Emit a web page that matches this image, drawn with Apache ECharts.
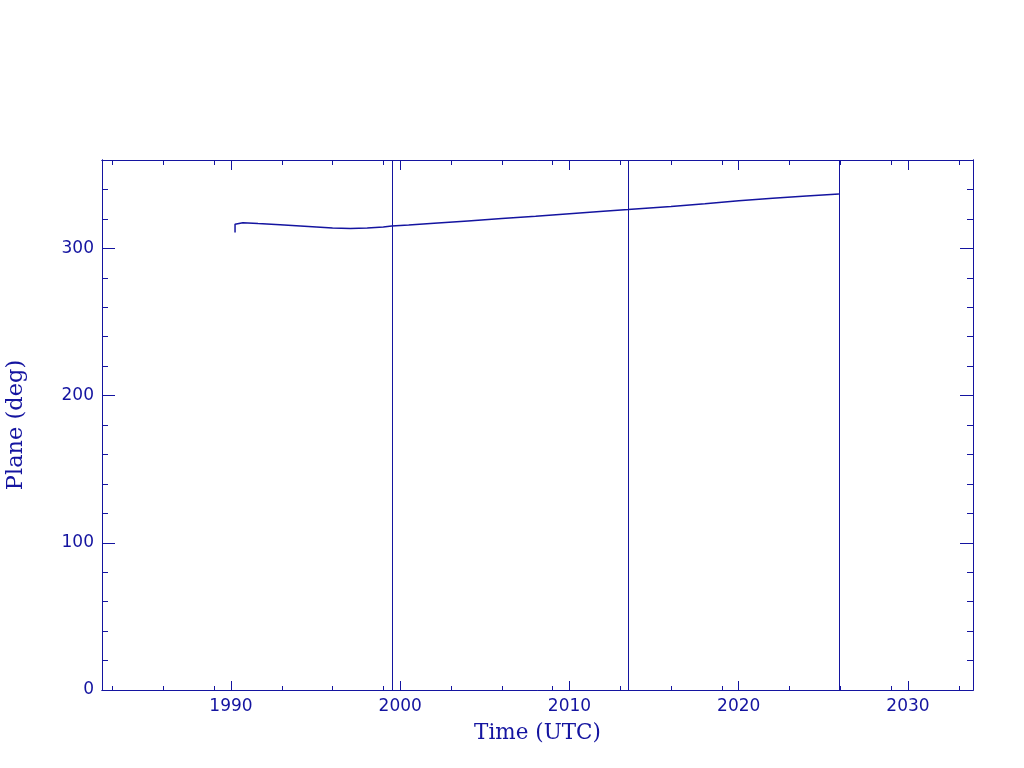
<!DOCTYPE html>
<html>
<head>
<meta charset="utf-8">
<script src="https://cdn.jsdelivr.net/npm/echarts@6/dist/echarts.min.js"></script>
<style>
html,body{margin:0;padding:0;background:#fff;}
#chart{width:1024px;height:768px;}
</style>
</head>
<body>
<div id="chart"></div>
<script>
// ---- data ----
const times = [1990.24, 1990.24, 1990.30, 1990.7, 1991.6, 1992.9, 1994.1, 1995.05, 1996.0, 1997.05, 1998.05, 1999.0, 1999.5,
  2000.5, 2002.0, 2004.0, 2006.0, 2008.0, 2010.0, 2012.0, 2013.46, 2016.0, 2018.0, 2020.0, 2022.0, 2024.0, 2025.92];
const plane = [310.7, 316.3, 317.5, 317.4, 316.8, 316.1, 315.2, 314.5, 313.8, 313.4, 313.8, 314.5, 315.1,
  315.8, 317.1, 318.6, 320.2, 321.8, 323.5, 325.2, 326.3, 328.4, 330.3, 332.3, 334.0, 335.5, 336.9];
const eventTimes = [1999.51, 2013.46, 2025.92];
const xMajorTicks = [1990, 2000, 2010, 2020, 2030];
const xMinorTicks = [1983, 1986, 1989, 1993, 1996, 1999, 2003, 2006, 2009, 2013, 2016, 2019, 2023, 2026, 2029, 2033];
const yMajorTicks = [0, 100, 200, 300];
const yMinorTicks = [20, 40, 60, 80, 120, 140, 160, 180, 220, 240, 260, 280, 320, 340];
const xTitle = 'Time (UTC)';
const yTitle = 'Plane (deg)';

const C = '#1414a0';
const X_MIN = 1982.38, X_MAX = 2033.84, Y_MIN = 0, Y_MAX = 360;

function xAx(pos, ticks, len, labels, extra) {
  return Object.assign({
    type: 'value', position: pos, min: X_MIN, max: X_MAX,
    axisLine: { show: true, onZero: false, lineStyle: { color: C, width: 1 } },
    axisTick: { show: true, inside: true, length: len, customValues: ticks, lineStyle: { color: C, width: 1 } },
    axisLabel: labels ? { show: true, customValues: ticks, color: C, fontFamily: 'DejaVu Sans', fontSize: 17, margin: 8,
      formatter: v => String(Math.round(v)) } : { show: false },
    splitLine: { show: false }
  }, extra || {});
}
function yAx(pos, ticks, len, labels, extra) {
  return Object.assign({
    type: 'value', position: pos, min: Y_MIN, max: Y_MAX,
    axisLine: { show: true, onZero: false, lineStyle: { color: C, width: 1 } },
    axisTick: { show: true, inside: true, length: len, customValues: ticks, lineStyle: { color: C, width: 1 } },
    axisLabel: labels ? { show: true, customValues: ticks, color: C, fontFamily: 'DejaVu Sans', fontSize: 17, margin: 8,
      formatter: v => String(Math.round(v)) } : { show: false },
    splitLine: { show: false }
  }, extra || {});
}

const chart = echarts.init(document.getElementById('chart'), null, { renderer: 'canvas' });
chart.setOption({
  backgroundColor: '#ffffff',
  animation: false,
  grid: { left: 102, right: 51, top: 160, bottom: 78, containLabel: false, outerBoundsMode: 'none' },
  xAxis: [
    xAx('bottom', xMajorTicks, 9, true, {
      name: xTitle, nameLocation: 'middle', nameGap: 32,
      nameTextStyle: { color: C, fontFamily: 'DejaVu Serif', fontSize: 21.5 }
    }),
    xAx('bottom', xMinorTicks, 4, false),
    xAx('top', xMajorTicks, 10, false),
    xAx('top', xMinorTicks, 5, false)
  ],
  yAxis: [
    yAx('left', yMajorTicks, 13, true, {
      name: yTitle, nameLocation: 'middle', nameGap: 74, nameRotate: 90,
      nameTextStyle: { color: C, fontFamily: 'DejaVu Serif', fontSize: 22.5 }
    }),
    yAx('left', yMinorTicks, 6, false),
    yAx('right', yMajorTicks, 13, false),
    yAx('right', yMinorTicks, 6, false)
  ],
  series: [{
    type: 'line',
    xAxisIndex: 0, yAxisIndex: 0,
    data: times.map((t, i) => [t, plane[i]]),
    showSymbol: false, symbol: 'none',
    lineStyle: { color: C, width: 1.5 },
    silent: true,
    markLine: {
      silent: true, symbol: ['none', 'none'], label: { show: false },
      lineStyle: { color: C, width: 1, type: 'solid' },
      data: eventTimes.map(t => ({ xAxis: t }))
    }
  }]
});
</script>
</body>
</html>
